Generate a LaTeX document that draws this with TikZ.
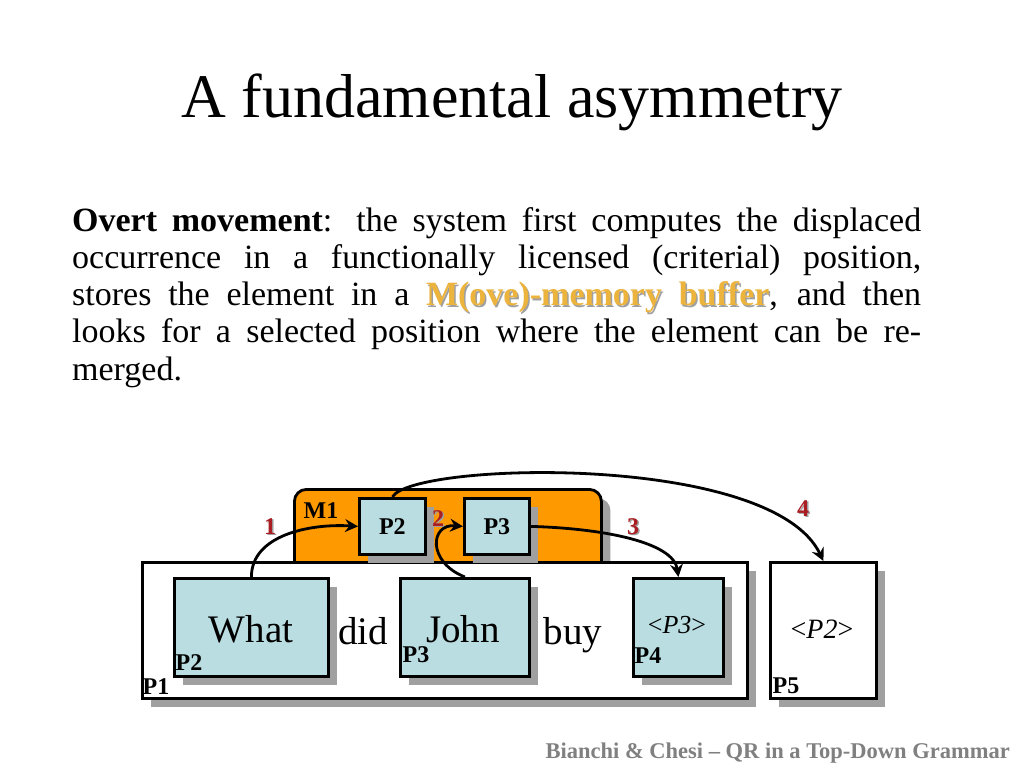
\documentclass[tikz,border=0pt]{standalone}
\usepackage{fontspec}
\setmainfont{Liberation Serif}
\usetikzlibrary{arrows.meta,shadows}
\definecolor{boxblue}{RGB}{185,221,225}
\definecolor{memorange}{RGB}{255,153,0}
\definecolor{numred}{RGB}{170,30,35}
\definecolor{goldtext}{RGB}{236,180,60}
\definecolor{shadegray}{RGB}{160,160,160}
\definecolor{footgray}{RGB}{128,128,128}
\newcommand{\shadowed}[2]{\leavevmode\rlap{\hspace{1.5pt}\raisebox{-1.5pt}{\textcolor{shadegray}{#2}}}\textcolor{#1}{#2}}
\newcommand{\fsz}[1]{\fontsize{#1}{#1}\selectfont}
\tikzset{
  shadowbox/.style={draw=black, line width=2.8pt, inner sep=0pt, anchor=north west,
    drop shadow={shadow xshift=9pt, shadow yshift=-9pt, fill=shadegray, opacity=1}},
  bluebox/.style={shadowbox, fill=boxblue},
  whitebox/.style={shadowbox, fill=white},
  membox/.style={shadowbox, fill=memorange, rounded corners=12pt},
  tag/.style={font=\fsz{24}\bfseries, inner sep=0pt},
  numlabel/.style={font=\fsz{24}\bfseries, inner sep=0pt},
  word/.style={font=\fsz{39}, inner sep=0pt, anchor=base},
  conn/.style={line width=2.8pt, -{Stealth[length=13pt,width=13pt,inset=4.5pt]}},
}
\begin{document}
\begin{tikzpicture}[x=1pt,y=-1pt]
\useasboundingbox[fill=white] (0,0) rectangle (1024,768);

% title
\node[font=\fsz{62}, inner sep=0pt, anchor=base] (title) at (512,117) {A fundamental asymmetry};

% paragraph
\node[inner sep=0pt, anchor=base west, font=\fsz{34}] (para) at (72,231) {\parbox[t]{849pt}{%
\baselineskip=37.3pt\lineskiplimit=-100pt\lineskip=0pt\parindent=0pt
\makebox[849pt][s]{\textbf{Overt movement}: the system first computes the displaced}\\
\makebox[849pt][s]{occurrence in a functionally licensed (criterial) position,}\\
\makebox[849pt][s]{stores the element in a \textbf{\shadowed{goldtext}{M(ove)-memory} \shadowed{goldtext}{buffer}}, and then}\\
\makebox[849pt][s]{looks for a selected position where the element can be re-}\\
merged.}};

% memory buffer
\node[membox, minimum width=307pt, minimum height=90pt] (mem) at (293,488) {};
% big boxes
\node[whitebox, minimum width=605pt, minimum height=136pt] (p1) at (141,561) {};
\node[whitebox, minimum width=106pt, minimum height=136pt] (p5) at (769,561) {};
% small boxes in memory
\node[bluebox, minimum width=66pt, minimum height=56pt, font=\fsz{24}\bfseries] (p2s) at (358,497) {P2};
\node[bluebox, minimum width=65pt, minimum height=56pt, font=\fsz{24}\bfseries] (p3s) at (463,497) {P3};
% inner boxes
\node[bluebox, minimum width=154pt, minimum height=98pt] (what) at (173,577) {};
\node[bluebox, minimum width=129pt, minimum height=98pt] (john) at (399,577) {};
\node[bluebox, minimum width=90pt, minimum height=98pt] (p4) at (632,577) {};

% words
\node[word] (wwhat) at (251,642) {What};
\node[word] (wdid) at (363,644) {did};
\node[word] (wjohn) at (463,642) {John};
\node[word] (wbuy) at (573,644) {buy};
\node[font=\fsz{26}, inner sep=0pt, anchor=base] (gp3) at (677,633) {<\textit{P3}>};
\node[font=\fsz{28}, inner sep=0pt, anchor=base] (gp2) at (822,638) {<\textit{P2}>};

% position tags
\node[tag] (tm1) at (321,511) {M1};
\node[tag] (tp2) at (189,663) {P2};
\node[tag] (tp3) at (416,655) {P3};
\node[tag] (tp1) at (156,687) {P1};
\node[tag] (tp4) at (648,656) {P4};
\node[tag] (tp5) at (786,686) {P5};

% step numbers
\node[numlabel] (n1) at (270,527) {\shadowed{numred}{1}};
\node[numlabel] (n2) at (438,519) {\shadowed{numred}{2}};
\node[numlabel] (n3) at (633,527) {\shadowed{numred}{3}};
\node[numlabel] (n4) at (803,509) {\shadowed{numred}{4}};

% arrows
\draw[conn] (what.north) .. controls +(0,-42) and +(-48,-3) .. (p2s.west);
\draw[conn] (john.north) .. controls +(-38,-15) and +(-33,-3) .. (p3s.west);
\draw[conn] (p3s.east) .. controls +(72,2) and +(-5,-35) .. (p4.north);
\draw[conn] (p2s.north) .. controls +(19,-35) and +(-52,-109) .. (p5.north);

% footer
\node[font=\fsz{22.5}\bfseries, text=footgray, inner sep=0pt, anchor=base east] (foot) at (1010,758) {Bianchi \& Chesi -- QR in a Top-Down Grammar};
\end{tikzpicture}
\end{document}
